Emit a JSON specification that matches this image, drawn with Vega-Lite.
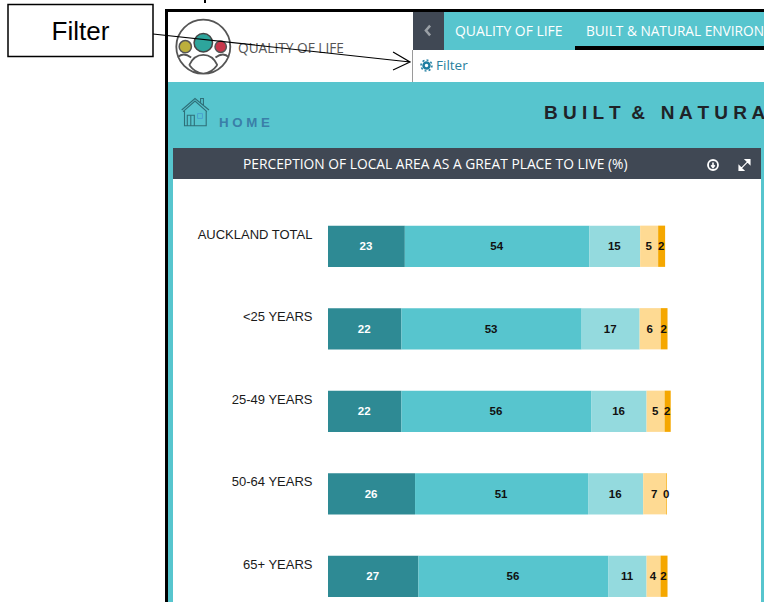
{
"$schema":"https://vega.github.io/schema/vega-lite/v6.json",
"width":764,"height":602,"autosize":{"type":"fit","contains":"padding"},"padding":0,"background":"white",
"config":{"view":{"stroke":null}},
"datasets":{"one":[{"k":1}],
"survey":[
{"group":"AUCKLAND TOTAL","answer":"A","order":1,"value":22.6},{"group":"AUCKLAND TOTAL","answer":"B","order":2,"value":54.3},{"group":"AUCKLAND TOTAL","answer":"C","order":3,"value":14.9},{"group":"AUCKLAND TOTAL","answer":"D","order":4,"value":5.3},{"group":"AUCKLAND TOTAL","answer":"E","order":5,"value":2.05},
{"group":"<25 YEARS","answer":"A","order":1,"value":21.6},{"group":"<25 YEARS","answer":"B","order":2,"value":53.0},{"group":"<25 YEARS","answer":"C","order":3,"value":17.06},{"group":"<25 YEARS","answer":"D","order":4,"value":6.2},{"group":"<25 YEARS","answer":"E","order":5,"value":2.0},
{"group":"25-49 YEARS","answer":"A","order":1,"value":21.6},{"group":"25-49 YEARS","answer":"B","order":2,"value":55.9},{"group":"25-49 YEARS","answer":"C","order":3,"value":16.2},{"group":"25-49 YEARS","answer":"D","order":4,"value":5.3},{"group":"25-49 YEARS","answer":"E","order":5,"value":1.8},
{"group":"50-64 YEARS","answer":"A","order":1,"value":25.6},{"group":"50-64 YEARS","answer":"B","order":2,"value":50.9},{"group":"50-64 YEARS","answer":"C","order":3,"value":16.2},{"group":"50-64 YEARS","answer":"D","order":4,"value":6.8},{"group":"50-64 YEARS","answer":"E","order":5,"value":0.2},
{"group":"65+ YEARS","answer":"A","order":1,"value":26.6},{"group":"65+ YEARS","answer":"B","order":2,"value":55.9},{"group":"65+ YEARS","answer":"C","order":3,"value":11.2},{"group":"65+ YEARS","answer":"D","order":4,"value":4.1},{"group":"65+ YEARS","answer":"E","order":5,"value":2.06}
]},
"layer":[
{"data":{"name":"one"},"mark":{"type":"rect","x":168,"x2":764,"y":12,"y2":602,"fill":"#57c5ce"},"encoding":{}},
{"data":{"name":"one"},"mark":{"type":"rect","x":168,"x2":764,"y":12,"y2":82,"fill":"white"},"encoding":{}},
{"data":{"name":"one"},"mark":{"type":"rect","x":444,"x2":764,"y":12,"y2":50,"fill":"#57c5ce"},"encoding":{}},
{"data":{"name":"one"},"mark":{"type":"rect","x":413,"x2":444,"y":12,"y2":50,"fill":"#404854"},"encoding":{}},
{"data":{"name":"one"},"mark":{"type":"rect","x":575,"x2":764,"y":46,"y2":50,"fill":"#000000"},"encoding":{}},
{"data":{"name":"one"},"mark":{"type":"rect","x":412,"x2":413,"y":50,"y2":82,"fill":"#9a9a9a"},"encoding":{}},
{"data":{"name":"one"},"mark":{"type":"rect","x":165,"x2":168,"y":9,"y2":602,"fill":"#000000"},"encoding":{}},
{"data":{"name":"one"},"mark":{"type":"rect","x":165,"x2":764,"y":9,"y2":12,"fill":"#000000"},"encoding":{}},
{"data":{"name":"one"},"mark":{"type":"rect","x":173,"x2":761,"y":179,"y2":602,"fill":"white"},"encoding":{}},
{"data":{"name":"one"},"mark":{"type":"rect","x":173,"x2":761,"y":148,"y2":179,"fill":"#404854"},"encoding":{}},
{"data":{"name":"one"},"mark":{"type":"point","x":203.3,"y":46.7,"size":2916,"shape":"M-1,0A1,1 0 1,1 1,0A1,1 0 1,1 -1,0ZM-0.52,0.68Q-0.35,0.3 0,0.3Q0.35,0.3 0.52,0.68M-0.52,0.68Q-0.3,0.98 0,1Q0.3,0.98 0.52,0.68M-0.95,0.4Q-0.75,0.18 -0.45,0.4M0.95,0.4Q0.75,0.18 0.45,0.4","filled":false,"stroke":"#555555","strokeWidth":1.8,"opacity":1},"encoding":{}},
{"data":{"name":"one"},"mark":{"type":"point","x":185.3,"y":46.7,"size":150,"shape":"circle","filled":true,"fill":"#bcaf3c","stroke":"#555555","strokeWidth":1.5,"opacity":1},"encoding":{}},
{"data":{"name":"one"},"mark":{"type":"point","x":203.3,"y":42.7,"size":340,"shape":"circle","filled":true,"fill":"#2ea59c","stroke":"#444444","strokeWidth":1.5,"opacity":1},"encoding":{}},
{"data":{"name":"one"},"mark":{"type":"point","x":220.7,"y":46.7,"size":130,"shape":"circle","filled":true,"fill":"#c7364a","stroke":"#555555","strokeWidth":1.5,"opacity":1},"encoding":{}},
{"data":{"name":"one"},"mark":{"type":"text","x":238,"y":49,"align":"left","baseline":"middle","font":"Open Sans","fontSize":13.7,"fill":"#555555","text":"QUALITY OF LIFE"},"encoding":{}},
{"data":{"name":"one"},"mark":{"type":"point","x":428,"y":30.5,"size":196,"shape":"M0.3,-0.7L-0.3,0L0.3,0.7","filled":false,"stroke":"#9aa0a6","strokeWidth":2.5,"opacity":1},"encoding":{}},
{"data":{"name":"one"},"mark":{"type":"text","x":455,"y":31.5,"align":"left","baseline":"middle","font":"Open Sans","fontSize":13.9,"fill":"white","text":"QUALITY OF LIFE"},"encoding":{}},
{"data":{"name":"one"},"mark":{"type":"text","x":586,"y":31.5,"align":"left","baseline":"middle","font":"Open Sans","fontSize":13.7,"fill":"white","clip":true,"text":"BUILT & NATURAL ENVIRON"},"encoding":{}},
{"data":{"name":"one"},"mark":{"type":"point","x":426.5,"y":65.5,"size":36,"shape":"circle","filled":false,"stroke":"#1f7ea1","strokeWidth":2.5,"opacity":1},"encoding":{}},
{"data":{"name":"one"},"mark":{"type":"point","x":426.5,"y":65.5,"size":120,"shape":"circle","filled":false,"stroke":"#1f7ea1","strokeWidth":1.5,"strokeDash":[2,2.2],"opacity":1},"encoding":{}},
{"data":{"name":"one"},"mark":{"type":"text","x":436,"y":66,"align":"left","baseline":"middle","font":"Open Sans","fontSize":13.5,"fill":"#2a7f9e","text":"Filter"},"encoding":{}},
{"data":{"name":"one"},"mark":{"type":"point","x":195,"y":112.5,"size":784,"shape":"M-0.95,-0.18L0,-1L1,-0.18M-0.85,-0.06L0,-0.82L0.85,-0.06M-0.75,-0.1L-0.75,0.95L0.8,0.95L0.8,-0.1M-0.55,0.95L-0.55,0.2L-0.05,0.2L-0.05,0.95M-0.3,0.2L-0.3,0.95M0.4,-0.7L0.4,-1L0.6,-1L0.6,-0.5","filled":false,"stroke":"#2f6f78","strokeWidth":1.1,"opacity":1},"encoding":{}},
{"data":{"name":"one"},"mark":{"type":"point","x":200,"y":116,"size":24,"shape":"square","filled":false,"stroke":"#4aa3d0","strokeWidth":1,"opacity":1},"encoding":{}},
{"data":{"name":"one"},"mark":{"type":"text","x":219,"y":123,"align":"left","baseline":"middle","font":"Liberation Sans","fontSize":13.3,"fontWeight":"bold","fill":"#3a7fa8","text":"H O M E"},"encoding":{}},
{"data":{"name":"one"},"mark":{"type":"text","x":544,"y":113,"align":"left","baseline":"middle","font":"Liberation Sans","fontSize":19,"fontWeight":"bold","fill":"#1f2328","clip":true,"text":"B U I L T \u00a0& \u00a0\u00a0N A T U R A"},"encoding":{}},
{"data":{"name":"one"},"mark":{"type":"text","x":243,"y":165,"align":"left","baseline":"middle","font":"Open Sans","fontSize":13.8,"fill":"white","text":"PERCEPTION OF LOCAL AREA AS A GREAT PLACE TO LIVE (%)"},"encoding":{}},
{"data":{"name":"one"},"mark":{"type":"point","x":713,"y":165,"size":100,"shape":"circle","filled":false,"stroke":"white","strokeWidth":1.8,"opacity":1},"encoding":{}},
{"data":{"name":"one"},"mark":{"type":"point","x":713,"y":165,"size":36,"shape":"M0,-0.8L0,0.3M-0.6,0.1L0,0.8L0.6,0.1","filled":false,"stroke":"white","strokeWidth":1.6,"opacity":1},"encoding":{}},
{"data":{"name":"one"},"mark":{"type":"point","x":744.5,"y":165,"size":120,"shape":"M0.15,-1L1,-1L1,-0.15ZM-1,0.15L-1,1L-0.15,1ZM0.7,-0.7L-0.7,0.7","filled":true,"fill":"white","stroke":"white","strokeWidth":1.2,"opacity":1},"encoding":{}},
{"data":{"name":"survey"},
 "transform":[
  {"stack":"value","groupby":["group"],"sort":[{"field":"order","order":"ascending"}],"as":["start","end"]},
  {"calculate":"(datum.start+datum.end)/2","as":"mid"}],
 "encoding":{"y":{"field":"group","type":"nominal","sort":null,
   "scale":{"domain":["AUCKLAND TOTAL","<25 YEARS","25-49 YEARS","50-64 YEARS","65+ YEARS"],"range":[205,617.5],"paddingInner":0.5,"paddingOuter":0.25},
   "axis":{"title":null,"orient":"left","offset":-312,"domain":false,"ticks":false,"grid":false,"labelPadding":0,"labelOffset":-11.5,"labelFont":"Liberation Sans","labelFontSize":13,"labelColor":"#1a1a1a","labelLimit":300,"zindex":1}}},
 "layer":[
  {"mark":{"type":"bar"},
   "encoding":{"x":{"field":"start","type":"quantitative","scale":{"domain":[0,100],"range":[328,668]},"axis":null},"x2":{"field":"end"},
    "color":{"field":"answer","type":"nominal","legend":null,"scale":{"domain":["A","B","C","D","E"],"range":["#2e8a94","#57c5ce","#94dade","#feda93","#f5a700"]}}}},
  {"mark":{"type":"text","font":"Liberation Sans","fontSize":11.5,"fontWeight":"bold","dy":1,"dx":-0.5},
   "encoding":{"x":{"field":"mid","type":"quantitative"},
    "text":{"field":"value","type":"quantitative","format":".0f"},
    "color":{"condition":{"test":"datum.answer==='A'","value":"white"},"value":"#111111"}}}
 ]},
{"data":{"name":"one"},"mark":{"type":"rect","x":8,"x2":153,"y":4.5,"y2":56.5,"fill":"white","stroke":"#000000","strokeWidth":1.5},"encoding":{}},
{"data":{"name":"one"},"mark":{"type":"text","x":80.5,"y":32,"align":"center","baseline":"middle","font":"Liberation Sans","fontSize":26,"fill":"#000000","text":"Filter"},"encoding":{}},
{"data":{"name":"one"},"mark":{"type":"point","x":281.5,"y":48,"size":66049,"shape":"M-1,-0.109L1,0.109M0.868,0.031L1,0.109L0.868,0.171","filled":false,"stroke":"#000000","strokeWidth":1.2,"opacity":1},"encoding":{}},
{"data":{"name":"one"},"mark":{"type":"rect","x":204,"x2":206,"y":0,"y2":3,"fill":"#000000"},"encoding":{}}
]
}
